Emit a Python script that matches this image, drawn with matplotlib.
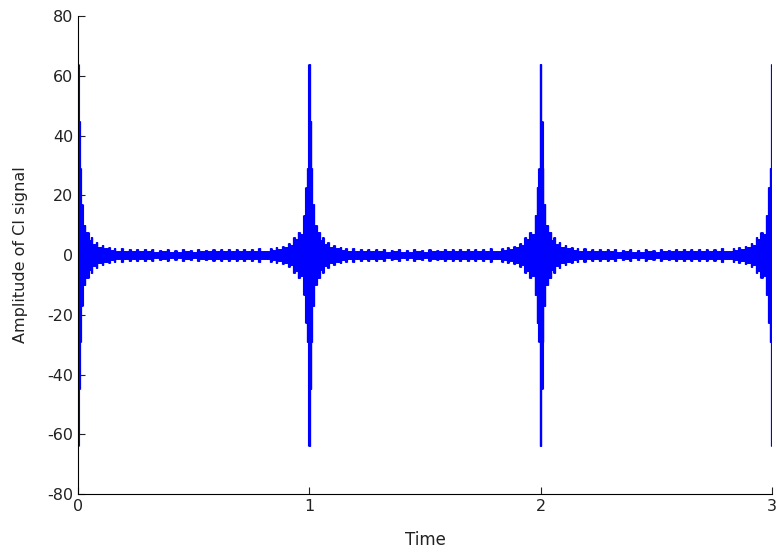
import numpy as np
import matplotlib
matplotlib.use("Agg")
import matplotlib.pyplot as plt

# envelope of the CI signal, read off the picture as runs of (amplitude, duration in ms)
# right wing: just after each pulse, going outward
right_amp = [64, 45, 29, 17, 10, 7.8, 5.0, 6.0, 3.6, 4.2, 2.8, 3.3, 2.2, 2.7, 1.8, 2.4]
right_dur = [4, 5, 4, 8, 12, 14, 8, 8, 14, 8, 18, 8, 20, 8, 16, 8]

# left wing: just before each pulse, going outward
left_amp = [64, 29, 22.7, 13.4, 7.0, 7.6, 5.5, 6.0, 3.4, 3.9, 2.6, 3.1, 2.0, 2.6, 1.8, 2.3]
left_dur = [4, 6, 7, 9, 14, 10, 12, 8, 14, 8, 18, 8, 20, 8, 16, 8]

# quiet middle part between pulses (base level with small bumps)
mid_amp = [1.4, 2.2, 1.3, 2.1, 1.3, 2.0, 1.2, 1.9, 1.2, 2.0, 1.1, 1.8, 1.2, 1.9,
           1.1, 1.8, 1.1, 1.9, 1.2, 1.8, 1.1, 1.9, 1.2, 1.8, 1.2, 1.9, 1.2, 2.0,
           1.3, 1.9, 1.3, 2.0, 1.3, 2.1, 1.3, 2.1, 1.4, 2.2, 1.4]
mid_dur = [22, 10, 24, 10, 22, 10, 24, 10, 22, 10, 24, 10, 22, 10,
           24, 10, 22, 10, 24, 10, 22, 10, 24, 10, 22, 10, 24, 10,
           22, 10, 24, 10, 22, 10, 24, 10, 22, 10, 41]

n_periods = 3
period_ms = 1000

one_period = np.concatenate([
    np.repeat(right_amp, right_dur),
    np.repeat(mid_amp, mid_dur),
    np.repeat(left_amp[::-1], left_dur[::-1]),
])
env = np.concatenate([np.tile(one_period, n_periods), [right_amp[0]]])
t = np.arange(len(env)) / period_ms

plt.rcParams['font.family'] = ['DejaVu Sans']
plt.rcParams['axes.unicode_minus'] = False
fig = plt.figure(figsize=(7.77, 5.54), dpi=100)
ax = fig.add_axes([0.1004, 0.1083, 0.8932, 0.8628])

ax.vlines(t, -env, env, color='#0000ff', lw=0.8)

ax.set_xlim(0, 3)
ax.set_ylim(-80, 80)
ax.set_xticks([0, 1, 2, 3])
ax.set_yticks(np.arange(-80, 81, 20))
ax.spines['top'].set_visible(False)
ax.spines['right'].set_visible(False)
ax.tick_params(direction='in', length=5, labelsize=11.5, colors='#222222')
ax.set_xlabel('Time', fontsize=12, color='#222222', labelpad=12)
ax.set_ylabel('Amplitude of CI signal', fontsize=11.5, color='#222222', labelpad=14)

fig.savefig('out.png', dpi=100)
